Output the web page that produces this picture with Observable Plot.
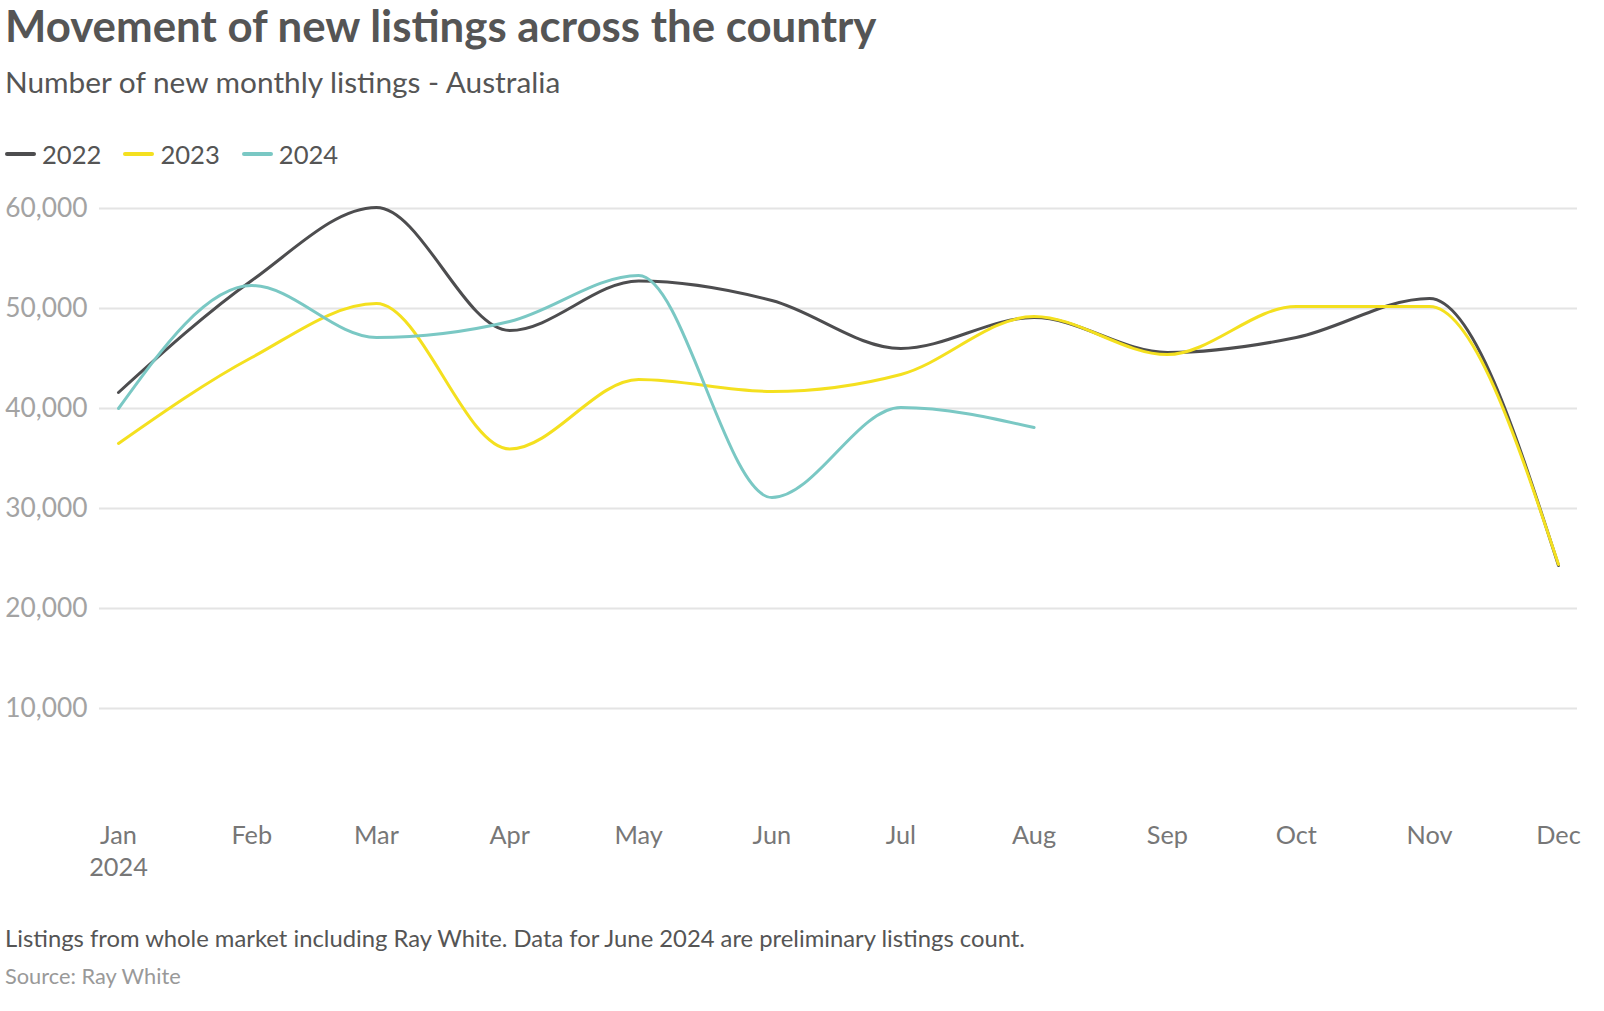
<!DOCTYPE html>
<html>
<head>
<meta charset="utf-8">
<script src="https://cdn.jsdelivr.net/npm/d3@7"></script>
<script src="https://cdn.jsdelivr.net/npm/@observablehq/plot@0.6"></script>
<style>
  html, body { margin: 0; padding: 0; background: #fff; }
  body { width: 1604px; height: 1011px; position: relative; overflow: hidden; font-family: Lato, "Open Sans", sans-serif; }
  .abs { position: absolute; left: 5px; white-space: nowrap; line-height: 1.2; }
  #title { top: -1px; font-size: 43.8px; font-weight: 700; color: #555555; }
  #subtitle { top: 64px; font-size: 29.8px; color: #555555; }
  #legend { top: 139px; font-size: 25.6px; color: #555555; display: flex; align-items: center; }
  .item { display: flex; align-items: center; margin-right: 22px; }
  .sw { width: 31px; height: 4px; border-radius: 2px; margin-right: 6px; }
  #chart { position: absolute; left: 0; top: 180px; }
  #caption { top: 924px; font-size: 23.8px; color: #555555; }
  #source { top: 963px; font-size: 21.8px; color: #999999; }
</style>
</head>
<body>
<div id="title" class="abs">Movement of new listings across the country</div>
<div id="subtitle" class="abs">Number of new monthly listings - Australia</div>
<div id="legend" class="abs"></div>
<div id="chart"></div>
<div id="caption" class="abs">Listings from whole market including Ray White. Data for June 2024 are preliminary listings count.</div>
<div id="source" class="abs">Source: Ray White</div>
<script>
// ---- data ----
const months = ["2024-01-01","2024-02-01","2024-03-01","2024-04-01","2024-05-01","2024-06-01",
                "2024-07-01","2024-08-01","2024-09-01","2024-10-01","2024-11-01","2024-12-01"];
const xTickLabels = ["Jan\n2024","Feb","Mar","Apr","May","Jun","Jul","Aug","Sep","Oct","Nov","Dec"];
const years = ["2022", "2023", "2024"];
const colors = ["#4d4d4f", "#f4e01f", "#7ac8c4"];
const values2022 = [41600, 52800, 60100, 47800, 52750, 50800, 46000, 49100, 45600, 47100, 51000, 24300];
const values2023 = [36500, 45100, 50500, 35950, 42900, 41700, 43400, 49200, 45400, 50200, 50200, 24400];
const values2024 = [40000, 52300, 47100, 48700, 53300, 31100, 40100, 38100];
const yTicks = [10000, 20000, 30000, 40000, 50000, 60000];

// ---- build table ----
const parse = d3.utcParse("%Y-%m-%d");
const monthDates = months.map(parse);
const series = [values2022, values2023, values2024];
const rows = [];
series.forEach((vals, s) => vals.forEach((v, i) => rows.push({date: monthDates[i], value: v, year: years[s]})));

// ---- legend ----
const legend = document.getElementById("legend");
years.forEach((y, i) => {
  const it = document.createElement("div");
  it.className = "item";
  it.innerHTML = `<span class="sw" style="background:${colors[i]}"></span><span>${y}</span>`;
  legend.appendChild(it);
});

// ---- chart ----
const chart = Plot.plot({
  width: 1604,
  height: 730,
  marginLeft: 99,
  marginRight: 27,
  marginTop: 28,
  marginBottom: 102,
  insetLeft: 19,
  insetRight: 19,
  style: {fontFamily: "Lato, 'Open Sans', sans-serif", background: "transparent", overflow: "visible"},
  x: {type: "utc", domain: [monthDates[0], monthDates[11]]},
  y: {domain: [0, 60000]},
  color: {domain: years, range: colors},
  marks: [
    Plot.gridY(yTicks, {stroke: "#e4e4e4", strokeOpacity: 1, strokeWidth: 2}),
    Plot.axisY(yTicks, {tickSize: 0, tickPadding: 12, tickFormat: d3.format(","), fontSize: 26.3, color: "#a3a3a3", label: null}),
    Plot.axisX(monthDates, {tickSize: 0, tickPadding: 12, tickFormat: d => xTickLabels[d.getUTCMonth()], fontSize: 25.3, color: "#777777", label: null, lineHeight: 1.28}),
    Plot.line(rows, {x: "date", y: "value", z: "year", stroke: "year", curve: "monotone-x", strokeWidth: 3})
  ]
});
document.getElementById("chart").appendChild(chart);
</script>
</body>
</html>
